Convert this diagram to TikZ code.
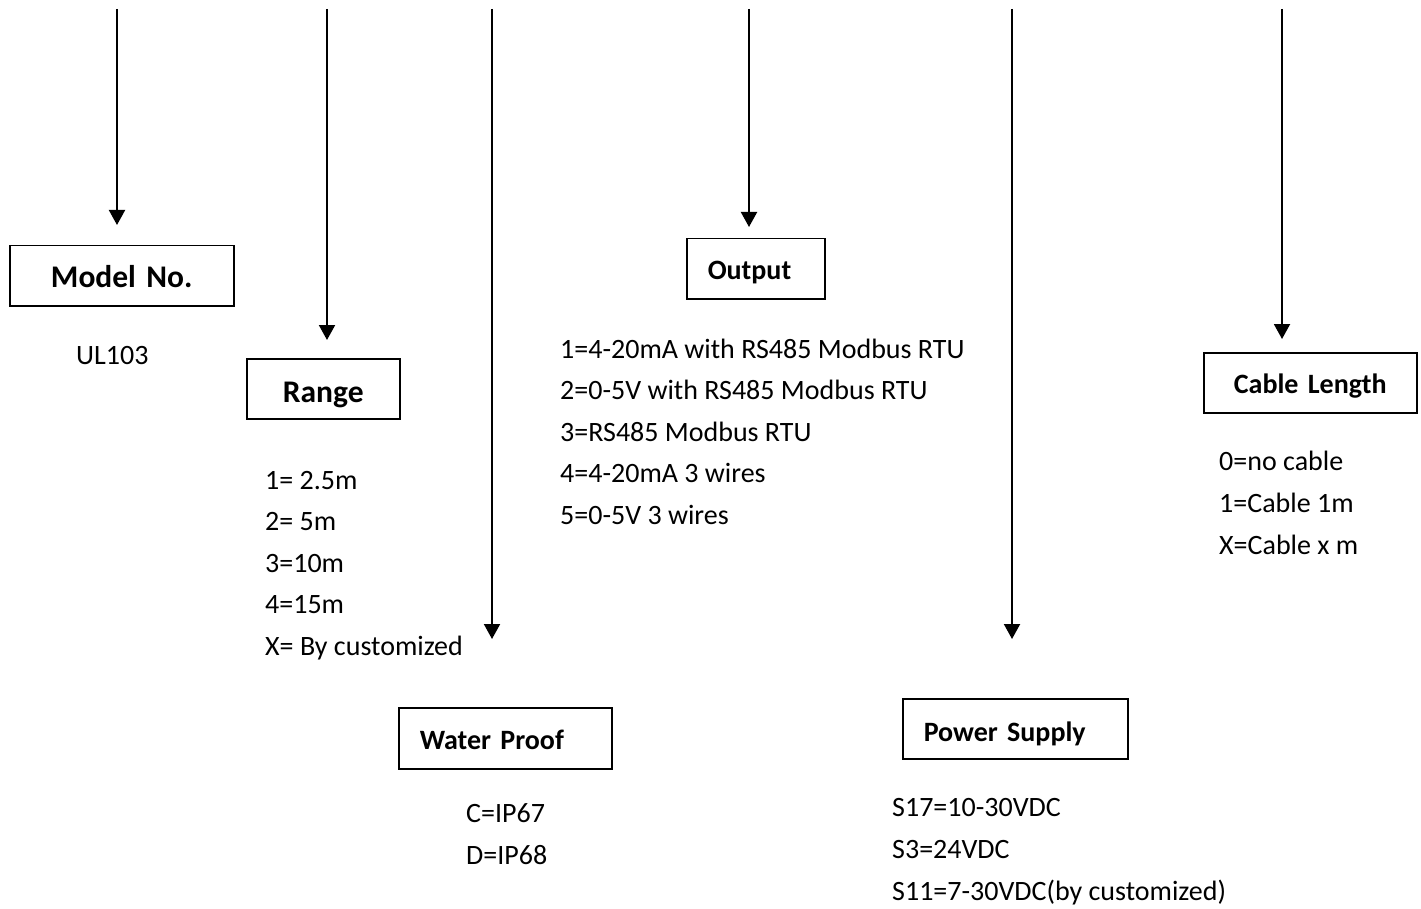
\documentclass[tikz,border=0pt]{standalone}
\usepackage{fontspec}
\setmainfont{Carlito}
\usetikzlibrary{arrows.meta}
\tikzset{
  conn/.style={line width=2pt,-{Triangle[width=16pt,length=15pt]}},
  boxc/.style={draw,line width=1.5pt,rectangle,anchor=north west,inner xsep=0pt,inner ysep=0pt,align=center,text depth=0pt},
  boxl/.style={draw,line width=1.5pt,rectangle,anchor=north west,inner ysep=0pt,align=left,text depth=0pt},
  big/.style={font=\fontsize{31.5}{36}\selectfont\bfseries},
  lab/.style={font=\fontsize{28}{33}\selectfont\bfseries},
  item/.style={anchor=base west,inner sep=0pt,font=\fontsize{28}{33}\selectfont}
}
\begin{document}
\begin{tikzpicture}[x=1pt,y=-1pt]
\useasboundingbox (0,0) rectangle (1421,909);
% connectors
\coordinate (t1) at (117,9);  \coordinate (h1) at (117,225);
\coordinate (t2) at (327,9);  \coordinate (h2) at (327,340);
\coordinate (t3) at (492,9);  \coordinate (h3) at (492,639);
\coordinate (t4) at (749,9);  \coordinate (h4) at (749,227);
\coordinate (t5) at (1012,9); \coordinate (h5) at (1012,639);
\coordinate (t6) at (1282,9); \coordinate (h6) at (1282,339);
\foreach \i in {1,...,6} {\draw[conn] (t\i) -- (h\i);}
% boxes
\node[boxc,big,text width=224pt,minimum height=60pt,text height=24pt] (model) at (9,245) {Model No.};
\node[boxc,big,text width=153pt,minimum height=60pt,text height=28pt] (range) at (246,358) {Range};
\node[boxl,lab,inner xsep=21pt,text width=96pt,minimum height=60pt,text height=22pt] (output) at (686,238) {Output};
\node[boxc,lab,text width=213pt,minimum height=60pt,text height=22pt] (cable) at (1203,352) {Cable Length};
\node[boxl,lab,inner xsep=21pt,text width=171pt,minimum height=61pt,text height=23pt] (water) at (398,707) {Water Proof};
\node[boxl,lab,inner xsep=21pt,text width=183pt,minimum height=60pt,text height=26pt] (power) at (902,698) {Power Supply};
% texts
\node[item] (ul) at (76,364) {UL103};
\node[item] (r1) at (265,489) {1= 2.5m};
\node[item] (r2) at (265,530.5) {2= 5m};
\node[item] (r3) at (265,572) {3=10m};
\node[item] (r4) at (265,613.5) {4=15m};
\node[item] (r5) at (265,655) {X= By customized};
\node[item] (o1) at (560,358) {1=4-20mA with RS485 Modbus RTU};
\node[item] (o2) at (560,399.5) {2=0-5V with RS485 Modbus RTU};
\node[item] (o3) at (560,441) {3=RS485 Modbus RTU};
\node[item] (o4) at (560,482.5) {4=4-20mA 3 wires};
\node[item] (o5) at (560,524) {5=0-5V 3 wires};
\node[item] (c1) at (1219,470) {0=no cable};
\node[item] (c2) at (1219,512) {1=Cable 1m};
\node[item] (c3) at (1219,554) {X=Cable x m};
\node[item] (w1) at (466,822) {C=IP67};
\node[item] (w2) at (466,864) {D=IP68};
\node[item] (p1) at (892,816) {S17=10-30VDC};
\node[item] (p2) at (892,858) {S3=24VDC};
\node[item] (p3) at (892,900) {S11=7-30VDC(by customized)};
\end{tikzpicture}
\end{document}
